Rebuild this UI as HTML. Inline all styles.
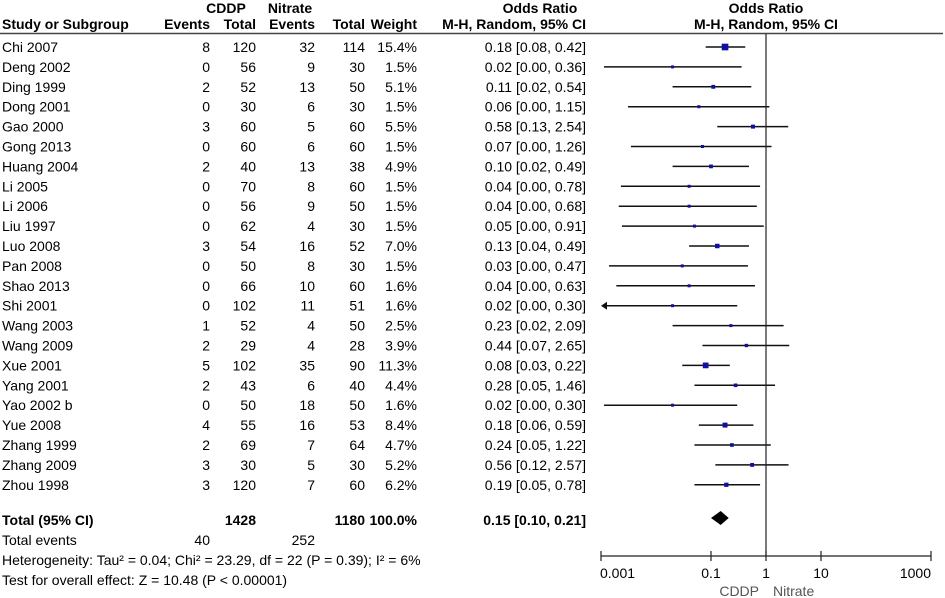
<!DOCTYPE html>
<html><head><meta charset="utf-8">
<style>
body{margin:0;background:#fff;width:945px;height:598px;overflow:hidden}
svg{display:block;font-family:"Liberation Sans",Arial,sans-serif;font-size:14px}
.b{font-weight:bold}
</style></head>
<body>
<svg id="plot" width="945" height="598">
<g>
<text x="226" y="13" text-anchor="middle" class="b">CDDP</text>
<text x="290" y="13" text-anchor="middle" class="b">Nitrate</text>
<text x="540" y="13" text-anchor="middle" class="b">Odds Ratio</text>
<text x="766" y="13" text-anchor="middle" class="b">Odds Ratio</text>
<text x="2" y="29" class="b">Study or Subgroup</text>
<text x="210" y="29" text-anchor="end" class="b">Events</text>
<text x="256" y="29" text-anchor="end" class="b">Total</text>
<text x="315" y="29" text-anchor="end" class="b">Events</text>
<text x="365" y="29" text-anchor="end" class="b">Total</text>
<text x="417" y="29" text-anchor="end" class="b">Weight</text>
<text x="586" y="29" text-anchor="end" class="b">M-H, Random, 95% CI</text>
<text x="766" y="29" text-anchor="middle" class="b">M-H, Random, 95% CI</text>
<line x1="0" y1="33.5" x2="943" y2="33.5" stroke="#444" stroke-width="1.5"/>
</g>
<g id="rows"></g>
<g id="marks"></g>
<g>
<text x="2" y="525" class="b">Total (95% CI)</text>
<text x="256" y="525" text-anchor="end" class="b">1428</text>
<text x="365" y="525" text-anchor="end" class="b">1180</text>
<text x="417" y="525" text-anchor="end" class="b">100.0%</text>
<text x="586" y="525" text-anchor="end" class="b">0.15 [0.10, 0.21]</text>
<text x="2" y="545">Total events</text>
<text x="210" y="545" text-anchor="end">40</text>
<text x="315" y="545" text-anchor="end">252</text>
<text x="2" y="565">Heterogeneity: Tau² = 0.04; Chi² = 23.29, df = 22 (P = 0.39); I² = 6%</text>
<text x="2" y="585">Test for overall effect: Z = 10.48 (P &lt; 0.00001)</text>
</g>
<g id="axis"></g>
</svg>
<script>
const studies=["Chi 2007","Deng 2002","Ding 1999","Dong 2001","Gao 2000","Gong 2013","Huang 2004","Li 2005","Li 2006","Liu 1997","Luo 2008","Pan 2008","Shao 2013","Shi 2001","Wang 2003","Wang 2009","Xue 2001","Yang 2001","Yao 2002 b","Yue 2008","Zhang 1999","Zhang 2009","Zhou 1998"];
const cddpEvents=[8,0,2,0,3,0,2,0,0,0,3,0,0,0,1,2,5,2,0,4,2,3,3];
const cddpTotal=[120,56,52,30,60,60,40,70,56,62,54,50,66,102,52,29,102,43,50,55,69,30,120];
const nitEvents=[32,9,13,6,5,6,13,8,9,4,16,8,10,11,4,4,35,6,18,16,7,5,7];
const nitTotal=[114,30,50,30,60,60,38,60,50,30,52,30,60,51,50,28,90,40,50,53,64,30,60];
const weights=[15.4,1.5,5.1,1.5,5.5,1.5,4.9,1.5,1.5,1.5,7.0,1.5,1.6,1.6,2.5,3.9,11.3,4.4,1.6,8.4,4.7,5.2,6.2];
const orVal=[0.18,0.02,0.11,0.06,0.58,0.07,0.10,0.04,0.04,0.05,0.13,0.03,0.04,0.02,0.23,0.44,0.08,0.28,0.02,0.18,0.24,0.56,0.19];
const ciLow=[0.08,0.00,0.02,0.00,0.13,0.00,0.02,0.00,0.00,0.00,0.04,0.00,0.00,0.00,0.02,0.07,0.03,0.05,0.00,0.06,0.05,0.12,0.05];
const ciHigh=[0.42,0.36,0.54,1.15,2.54,1.26,0.49,0.78,0.68,0.91,0.49,0.47,0.63,0.30,2.09,2.65,0.22,1.46,0.30,0.59,1.22,2.57,0.78];
const plotLow=[0.08,0.0011,0.02,0.0031,0.13,0.0035,0.02,0.0023,0.0021,0.0024,0.04,0.0014,0.0019,0.0008,0.02,0.07,0.03,0.05,0.001,0.06,0.05,0.12,0.05];
const totalOR=[0.15,0.10,0.21];
const tickVals=[0.001,0.1,1,10,1000];
const tickLabels=["0.001","0.1","1","10","1000"];

const NS="http://www.w3.org/2000/svg";
const X=v=>766+55*Math.log10(v);
const Y=i=>47+i*19.9;
const xMin=601;
function mk(t,a,p,txt){const e=document.createElementNS(NS,t);for(const k in a)e.setAttribute(k,a[k]);if(txt!==undefined)e.textContent=txt;p.appendChild(e);return e;}
const rows=document.getElementById('rows'),marks=document.getElementById('marks'),axis=document.getElementById('axis');
const f2=v=>v.toFixed(2);
studies.forEach((s,i)=>{
  const y=Y(i)+5;
  const g=mk('g',{},rows);
  
  
  const cols=[[2,'start',s],[210,'end',cddpEvents[i]],[256,'end',cddpTotal[i]],[315,'end',nitEvents[i]],[365,'end',nitTotal[i]],[417,'end',weights[i].toFixed(1)+'%'],[586,'end',f2(orVal[i])+' ['+f2(ciLow[i])+', '+f2(ciHigh[i])+']']];
  cols.forEach(c=>{const t=mk('text',{x:c[0],y:y,'text-anchor':c[1]},g,String(c[2]));
    
    });
  const yc=Y(i);
  const lo=X(plotLow[i]);
  const x1=Math.max(lo,xMin+3);
  const ln=mk('line',{x1:x1,y1:yc,x2:X(ciHigh[i]),y2:yc,stroke:'#111','stroke-width':1.5},marks);
  
  
  if(lo<xMin){const ar=mk('polygon',{points:`${xMin},${yc} ${xMin+6},${yc-4} ${xMin+6},${yc+4}`,fill:'#111'},marks);
    
    }
  const sz=Math.max(3,1.7*Math.sqrt(weights[i]));
  const sq=mk('rect',{x:X(orVal[i])-sz/2,y:yc-sz/2,width:sz,height:sz,fill:'#1010a0'},marks);
  
  
});
const yd=518;
const dm=mk('polygon',{points:`${X(totalOR[1])},${yd} ${X(totalOR[0])},${yd-7} ${X(totalOR[2])},${yd} ${X(totalOR[0])},${yd+7}`,fill:'#000'},marks);


const ref=mk('line',{x1:766,y1:34,x2:766,y2:556,stroke:'#222','stroke-width':1.2},axis);


const al=mk('line',{x1:X(tickVals[0]),y1:556,x2:X(tickVals[tickVals.length-1]),y2:556,stroke:'#222','stroke-width':1.2},axis);


tickVals.forEach((v,i)=>{
  const tk=mk('line',{x1:X(v),y1:551,x2:X(v),y2:561,stroke:'#222','stroke-width':1.2},axis);
  
  
  const anchor=i===0?'start':(i===tickVals.length-1?'end':'middle');
  const tl=mk('text',{x:X(v)+(i===0?-1:0),y:578,'text-anchor':anchor},axis,tickLabels[i]);
  
  
});
const l1=mk('text',{x:759,y:596,'text-anchor':'end',fill:'#555'},axis,'CDDP');


const l2=mk('text',{x:773,y:596,'text-anchor':'start',fill:'#555'},axis,'Nitrate');


</script>
</body></html>
